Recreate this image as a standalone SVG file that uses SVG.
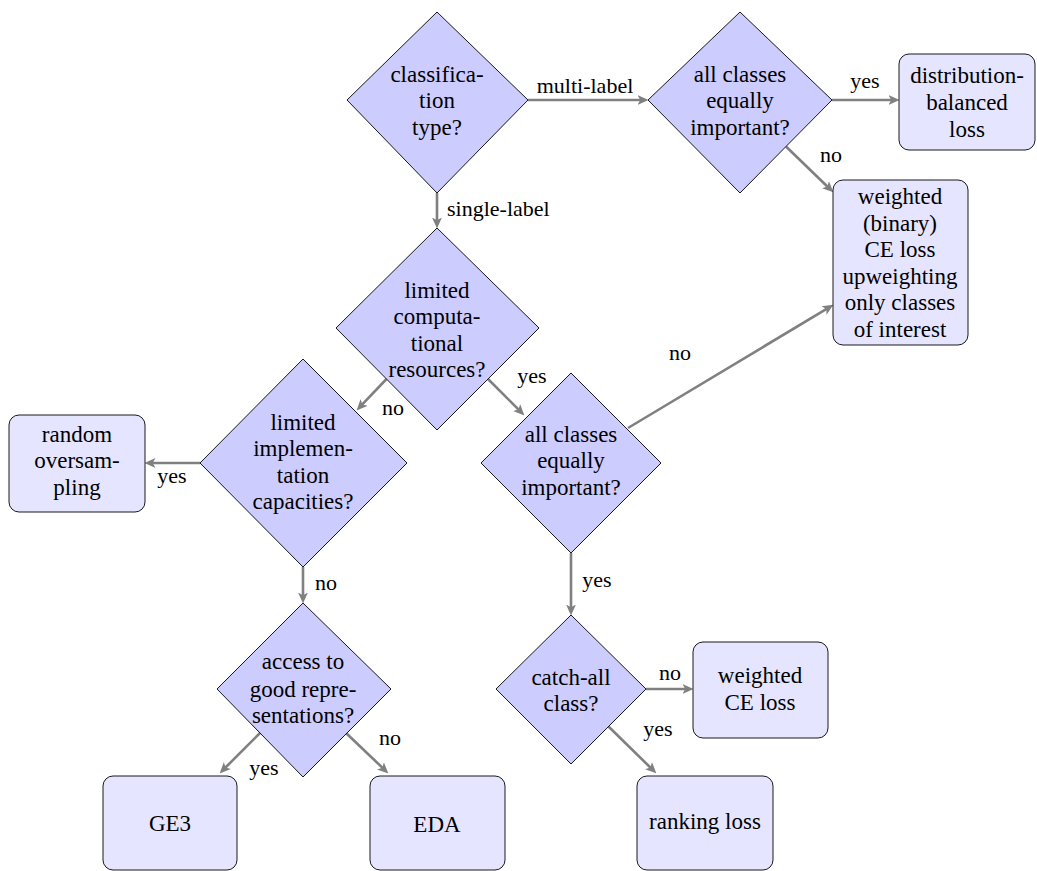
<svg xmlns="http://www.w3.org/2000/svg" width="1037" height="871" viewBox="0 0 1037 871" font-family="Liberation Serif, Times New Roman, DejaVu Serif, serif">
<style>
.d{fill:#ccccff;stroke:#000;stroke-width:0.9}
.b{fill:#e5e5ff;stroke:#000;stroke-width:0.9}
text{font-family:'Liberation Serif','Times New Roman','DejaVu Serif',serif;font-size:23px;fill:#000;text-anchor:middle}
.l{font-size:22px}
.c path{fill:none;stroke:#808080;stroke-width:2.6;marker-end:url(#ah)}
</style>
<defs>
<marker id="ah" viewBox="0 0 10 10" refX="5" refY="5" markerWidth="11" markerHeight="11" markerUnits="userSpaceOnUse" orient="auto">
<path d="M0,0.5 L10,5 L0,9.5 L2.5,5 Z" fill="#808080"/>
</marker>
</defs>
<rect width="1037" height="871" fill="#fff"/>
<g class="c" id="connectors">
<path d="M528,100 L643,100"/>
<path d="M437,193 L437,223"/>
<path d="M832,100 L894,100"/>
<path d="M786,146.5 L829.4,188.5"/>
<path d="M386.5,379 L360.4,406.4"/>
<path d="M488,379 L520.5,411.5"/>
<path d="M628,428 L828.7,307.6"/>
<path d="M200,463 L150,463"/>
<path d="M303,567 L303,598"/>
<path d="M571,553 L571,610"/>
<path d="M646,689 L688,689"/>
<path d="M608.5,726.5 L652.4,769.5"/>
<path d="M260,733 L223.5,769.5"/>
<path d="M346,733 L384.4,769.6"/>
</g>
<g id="labels">
<text class="l" x="585" y="93">multi-label</text>
<text class="l" x="447" y="216" style="text-anchor:start">single-label</text>
<text class="l" x="865" y="88">yes</text>
<text class="l" x="831" y="162">no</text>
<text class="l" x="680" y="360">no</text>
<text class="l" x="532" y="383">yes</text>
<text class="l" x="393" y="415">no</text>
<text class="l" x="172" y="483">yes</text>
<text class="l" x="326" y="590">no</text>
<text class="l" x="597" y="587">yes</text>
<text class="l" x="670" y="680">no</text>
<text class="l" x="658" y="736">yes</text>
<text class="l" x="264" y="775">yes</text>
<text class="l" x="390" y="745">no</text>
</g>
<g id="d1">
<polygon class="d" points="437,12 528,100 437,193 347,100"/>
<text x="437" y="82">classifica-</text><text x="437" y="108">tion</text><text x="437" y="135">type?</text>
</g>
<g id="d2">
<polygon class="d" points="740,12 832,100 740,193 648,100"/>
<text x="740" y="82">all classes</text><text x="740" y="108">equally</text><text x="740" y="135">important?</text>
</g>
<g id="n_dist">
<rect class="b" x="899" y="54" width="136" height="96" rx="10"/>
<text x="967" y="83">distribution-</text><text x="967" y="110">balanced</text><text x="967" y="137">loss</text>
</g>
<g id="n_wbce">
<rect class="b" x="833" y="180" width="135" height="165" rx="10"/>
<text x="900" y="204">weighted</text><text x="900" y="231">(binary)</text><text x="900" y="257">CE loss</text><text x="900" y="284">upweighting</text><text x="900" y="310">only classes</text><text x="900" y="337">of interest</text>
</g>
<g id="d3">
<polygon class="d" points="437,228 539,328 437,430 336,328"/>
<text x="437" y="298">limited</text><text x="437" y="324">computa-</text><text x="437" y="351">tional</text><text x="437" y="377">resources?</text>
</g>
<g id="d4">
<polygon class="d" points="303,359 407,463 303,567 200,463"/>
<text x="303" y="430">limited</text><text x="303" y="456">implemen-</text><text x="303" y="483">tation</text><text x="303" y="509">capacities?</text>
</g>
<g id="n_ros">
<rect class="b" x="9" y="415" width="136" height="97" rx="10"/>
<text x="77" y="442">random</text><text x="77" y="468">oversam-</text><text x="77" y="495">pling</text>
</g>
<g id="d5">
<polygon class="d" points="571,373 661,463 571,553 481,463"/>
<text x="571" y="442">all classes</text><text x="571" y="468">equally</text><text x="571" y="495">important?</text>
</g>
<g id="d6">
<polygon class="d" points="571,615 646,689 571,764 496,689"/>
<text x="571" y="685">catch-all</text><text x="571" y="711">class?</text>
</g>
<g id="n_wce">
<rect class="b" x="693" y="642" width="135" height="96" rx="10"/>
<text x="760" y="683">weighted</text><text x="760" y="710">CE loss</text>
</g>
<g id="n_rank">
<rect class="b" x="637" y="776" width="136" height="94" rx="10"/>
<text x="705" y="829">ranking loss</text>
</g>
<g id="d7">
<polygon class="d" points="303,603 391,689 303,777 217,689"/>
<text x="303" y="669">access to</text><text x="303" y="697">good repre-</text><text x="303" y="723">sentations?</text>
</g>
<g id="n_ge3">
<rect class="b" x="103" y="776" width="134" height="94" rx="10"/>
<text x="170" y="831">GE3</text>
</g>
<g id="n_eda">
<rect class="b" x="370" y="776" width="135" height="94" rx="10"/>
<text x="437" y="832">EDA</text>
</g>
</svg>
